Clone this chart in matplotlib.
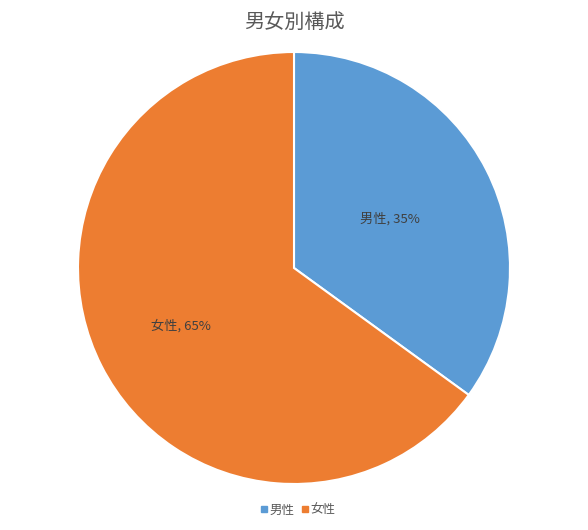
import matplotlib
matplotlib.use("Agg")
import matplotlib.pyplot as plt
from matplotlib.lines import Line2D
import numpy as np

plt.rcParams['font.family'] = ['Noto Sans CJK JP', 'DejaVu Sans']

# data
labels = ['男性', '女性']
shares = [35, 65]
colors = ['#5B9BD5', '#ED7D31']
title = '男女別構成'

W, H = 588, 530
fig = plt.figure(figsize=(W / 100, H / 100), dpi=100)
cx, cy, r = 294, 268, 216
ax = fig.add_axes([(cx - r) / W, (H - cy - r) / H, 2 * r / W, 2 * r / H])

wedges, texts = ax.pie(
    shares, colors=colors, startangle=90, counterclock=False,
    labels=[f'{l}, {v}%' for l, v in zip(labels, shares)],
    labeldistance=0.55,
    wedgeprops=dict(edgecolor='white', linewidth=1.5),
    textprops=dict(fontsize=9.5, color='#404040'),
)
# place label text inside slices, like the original
for w, t, d in zip(wedges, texts, [0.50, 0.59]):
    ang = np.deg2rad((w.theta1 + w.theta2) / 2)
    t.set_position((d * np.cos(ang), d * np.sin(ang)))
    t.set_ha('center')
    t.set_va('center')

ax.set_xlim(-1, 1)
ax.set_ylim(-1, 1)
ax.set_aspect('equal')
ax.axis('off')

fig.text(0.5, 1 - 22 / H, title, ha='center', va='center',
         fontsize=14.5, color='#595959')

handles = [Line2D([], [], marker='s', linestyle='none', markersize=4.5,
                  markerfacecolor=c, markeredgecolor=c) for c in colors]
fig.legend(handles, labels, loc='center', bbox_to_anchor=(0.505, 1 - 510 / H),
           ncol=2, frameon=False, fontsize=9, labelcolor='#595959',
           handletextpad=0.0, columnspacing=0.4, handlelength=0.9)

fig.savefig('out.png', dpi=100)
